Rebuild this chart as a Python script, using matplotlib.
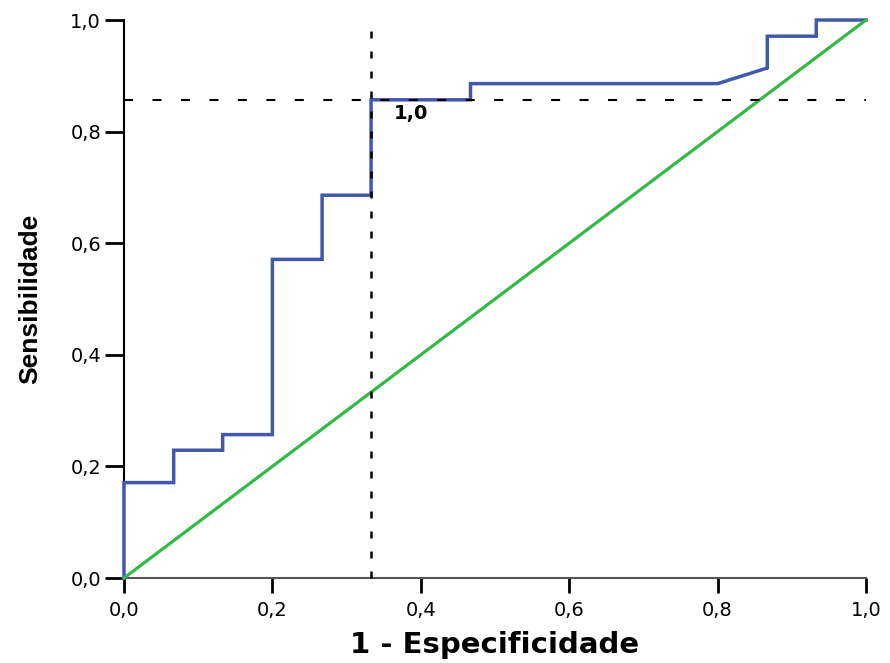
import matplotlib
matplotlib.use("Agg")
import matplotlib.pyplot as plt
from matplotlib.ticker import FuncFormatter

# ROC curve points (1 - specificity, sensitivity)
fpr = [0.0, 0.0, 0.067, 0.067, 0.133, 0.133, 0.2, 0.2, 0.267, 0.267,
       0.333, 0.333, 0.467, 0.467, 0.8, 0.867, 0.867, 0.933, 0.933, 1.0]
tpr = [0.0, 0.171, 0.171, 0.229, 0.229, 0.257, 0.257, 0.571, 0.571, 0.686,
       0.686, 0.857, 0.857, 0.886, 0.886, 0.914, 0.971, 0.971, 1.0, 1.0]

# Reference diagonal
diag_x = [0.0, 1.0]
diag_y = [0.0, 1.0]

# Chosen cut-off point
cut_x = 0.333
cut_y = 0.857
cut_label = "1,0"

ticks = [0.0, 0.2, 0.4, 0.6, 0.8, 1.0]

plt.rcParams["lines.scale_dashes"] = False

fig = plt.figure(figsize=(8.9, 6.63), dpi=100)
ax = fig.add_axes([0.1393, 0.1282, 0.8337, 0.8416])

ax.plot(fpr, tpr, color="#4259AB", lw=2.5, clip_on=False, zorder=3,
        solid_joinstyle="miter")
ax.plot(diag_x, diag_y, color="#33B84A", lw=2.3, clip_on=False, zorder=4)

hline, = ax.plot([0.0, 1.0], [cut_y, cut_y], color="black", lw=1.5,
                 clip_on=False, zorder=5)
hline.set_dashes([6.5, 14.0])
vline, = ax.plot([cut_x, cut_x], [0.0, 1.0], color="black", lw=1.8,
                 clip_on=False, zorder=5)
vline.set_dashes([5.0, 9.4])

ax.text(0.387, 0.833, cut_label, ha="center", va="center", fontsize=14,
        fontweight="bold", family="DejaVu Sans", zorder=6)

ax.set_xlim(0, 1)
ax.set_ylim(0, 1)
ax.set_xticks(ticks)
ax.set_yticks(ticks)
fmt = FuncFormatter(lambda v, p: f"{v:.1f}".replace(".", ","))
ax.xaxis.set_major_formatter(fmt)
ax.yaxis.set_major_formatter(fmt)

for s in ("top", "right"):
    ax.spines[s].set_visible(False)
ax.spines["left"].set_color("black")
ax.spines["left"].set_linewidth(1.5)
ax.spines["bottom"].set_color("#555555")
ax.spines["bottom"].set_linewidth(1.5)

ax.tick_params(axis="y", direction="out", length=13.5, width=2.0,
               color="black", pad=3, labelsize=14)
ax.tick_params(axis="x", direction="out", length=10.5, width=2.0,
               color="black", pad=6, labelsize=14)
for lab in ax.get_xticklabels() + ax.get_yticklabels():
    lab.set_family("DejaVu Sans")

ax.set_xlabel("1 - Especificidade", fontsize=21, fontweight="bold",
              family="DejaVu Sans", labelpad=8)
ax.set_ylabel("Sensibilidade", fontsize=19, fontweight="bold",
              family="Liberation Sans", labelpad=20)

fig.savefig("out.png", dpi=100, facecolor="white")
